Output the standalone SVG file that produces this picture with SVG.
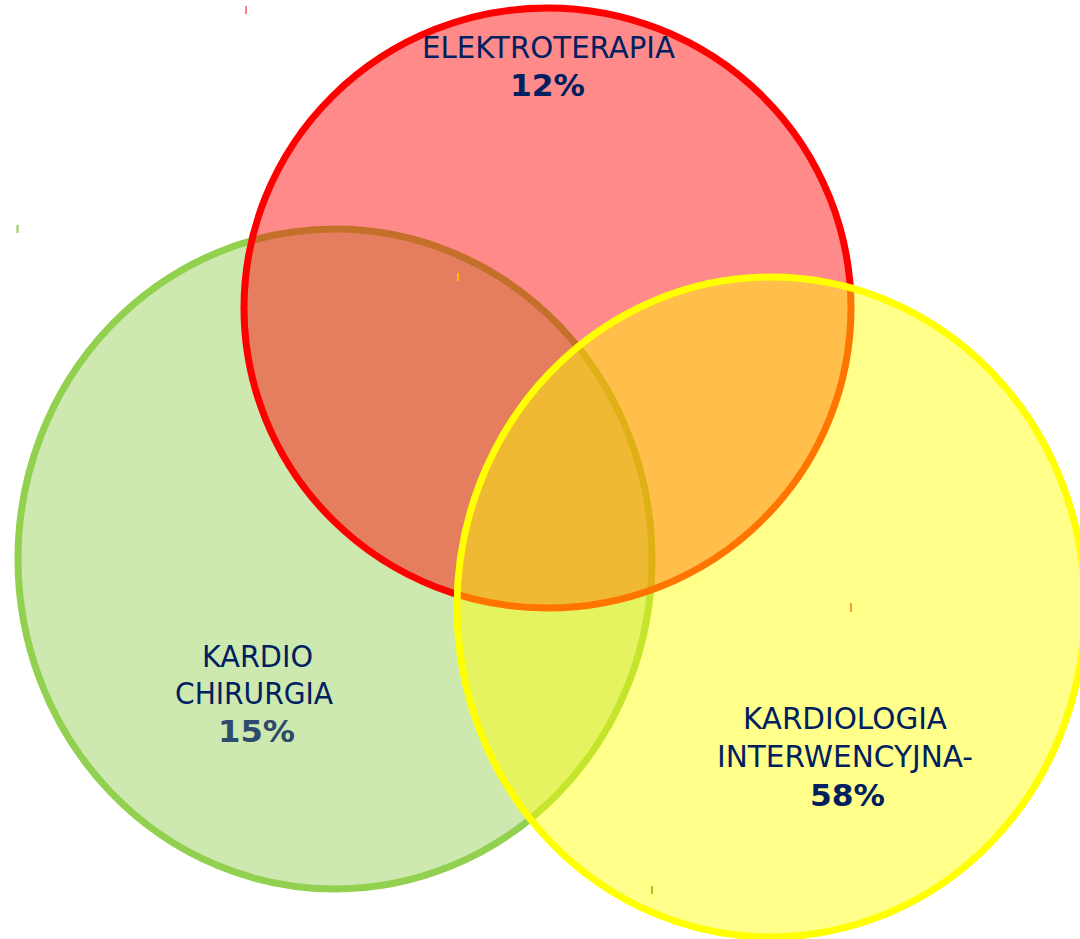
<svg xmlns="http://www.w3.org/2000/svg" width="1080" height="939" viewBox="0 0 1080 939">
<style>
.lbl{font-family:"DejaVu Sans","Liberation Sans",sans-serif;font-size:31px;fill:#002060;text-anchor:middle}
.pct{font-weight:bold}
.c{fill-opacity:0.46;stroke-width:7}
</style>
<rect width="1080" height="939" fill="#ffffff"/>
<g id="kardiochirurgia">
<ellipse class="c" cx="335" cy="559" rx="317" ry="330" fill="#92d050" stroke="#92d050"/>
</g>
<g id="elektroterapia">
<ellipse class="c" cx="547.5" cy="308" rx="303.5" ry="300" fill="#ff0000" stroke="#ff0000"/>
</g>
<g id="kardiologia">
<ellipse class="c" cx="771" cy="607" rx="314" ry="330" fill="#ffff00" stroke="#ffff00" stroke-width="6"/>
</g>
<g id="labels">
<text class="lbl" x="548.5" y="58" textLength="253" lengthAdjust="spacingAndGlyphs">ELEKTROTERAPIA</text>
<text class="lbl pct" x="547.5" y="96" textLength="75" lengthAdjust="spacingAndGlyphs">12%</text>
<text class="lbl" x="257.5" y="667" textLength="111" lengthAdjust="spacingAndGlyphs">KARDIO</text>
<text class="lbl" x="254" y="704" textLength="158" lengthAdjust="spacingAndGlyphs">CHIRURGIA</text>
<text class="lbl pct" x="256.5" y="742" textLength="77" lengthAdjust="spacingAndGlyphs" style="fill:#2e4a6c">15%</text>
<text class="lbl" x="845" y="729" textLength="204" lengthAdjust="spacingAndGlyphs">KARDIOLOGIA</text>
<text class="lbl" x="845" y="767" textLength="256" lengthAdjust="spacingAndGlyphs">INTERWENCYJNA-</text>
<text class="lbl pct" x="847.5" y="806" textLength="75" lengthAdjust="spacingAndGlyphs">58%</text>
</g>
<g id="marks">
<rect x="245" y="6" width="2" height="8" fill="#ff8080"/>
<rect x="16.5" y="225" width="2" height="8" fill="#92d050"/>
<rect x="457" y="273" width="2" height="8" fill="#ffc000"/>
<rect x="850" y="603" width="2" height="9" fill="#ff9933"/>
<rect x="651" y="886" width="2" height="8" fill="#b0c020"/>
</g>
</svg>
